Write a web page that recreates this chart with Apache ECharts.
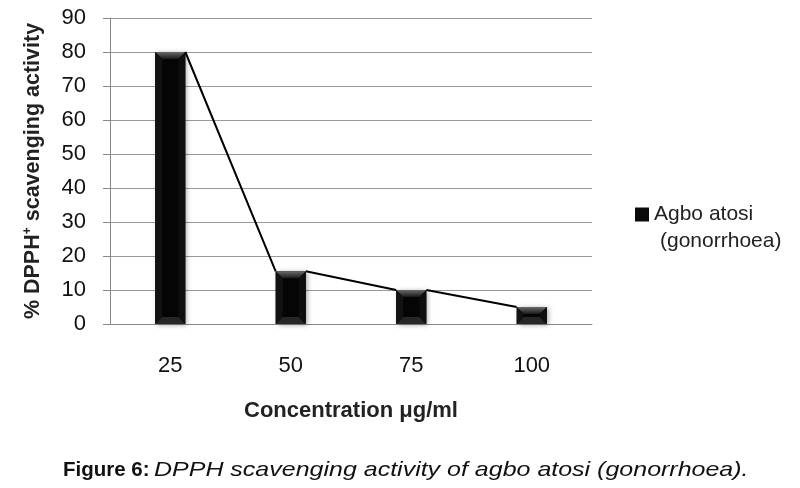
<!DOCTYPE html>
<html>
<head>
<meta charset="utf-8">
<script src="https://cdn.jsdelivr.net/npm/echarts@6/dist/echarts.min.js"></script>
<style>html,body{margin:0;padding:0;background:#fff}#c{width:800px;height:488px}</style>
</head>
<body>
<div id="c"></div>
<script>
const categories = ['25', '50', '75', '100'];
const values = [80, 15.5, 10, 5];
const yTicks = { min: 0, max: 90, interval: 10 };
const seriesName = 'Agbo atosi';
const legendSecondLine = '(gonorrhoea)';
const xName = 'Concentration μg/ml';
const captionBold = 'Figure 6:';
const captionItalic = 'DPPH scavenging activity of agbo atosi (gonorrhoea).';

const FONT = '"Liberation Sans", Arial, sans-serif';
const chart = echarts.init(document.getElementById('c'));

const lineData = values.map((v, i) => [i, v, i + 1 < values.length ? values[i + 1] : null]);

chart.setOption({
  animation: false,
  textStyle: { fontFamily: FONT },
  grid: { left: 110, right: 208, top: 18, bottom: 164, containLabel: false },
  legend: {
    left: 630, top: 199,
    itemWidth: 14, itemHeight: 14,
    itemGap: 8,
    data: [{ name: seriesName, icon: 'rect', itemStyle: { color: '#0a0a0a' } }],
    textStyle: { fontFamily: FONT, fontSize: 21, color: '#222', padding: [0, 0, 0, 0] },
    selectedMode: false
  },
  graphic: [
    { type: 'text', left: 660, top: 231,
      style: { text: legendSecondLine, font: '21px ' + FONT, fill: '#222' } },
    { type: 'text', x: 63, y: 470,
      style: { text: captionBold, font: 'bold 20.5px ' + FONT, fill: '#111', verticalAlign: 'middle' } },
    { type: 'text', x: 154, y: 470, scaleX: 1.19,
      style: { text: captionItalic, font: 'italic 21px ' + FONT, fill: '#111', verticalAlign: 'middle' } }
  ],
  xAxis: {
    type: 'category',
    data: categories,
    name: xName,
    nameLocation: 'middle',
    nameGap: 76,
    nameTextStyle: { fontFamily: FONT, fontSize: 22, fontWeight: 'bold', color: '#222' },
    axisLine: { lineStyle: { color: '#888', width: 1 } },
    axisTick: { show: false },
    axisLabel: { fontFamily: FONT, fontSize: 22, color: '#111', margin: 31 }
  },
  yAxis: {
    type: 'value',
    min: yTicks.min, max: yTicks.max, interval: yTicks.interval,
    name: '% DPPH{s|+} scavenging activity',
    nameLocation: 'middle',
    nameGap: 66,
    nameRotate: 90,
    nameTextStyle: {
      fontFamily: FONT, fontSize: 21.5, fontWeight: 'bold', color: '#222',
      rich: { s: { fontFamily: FONT, fontSize: 12, fontWeight: 'bold', color: '#222', verticalAlign: 'top', padding: [0, 0, 10, 0] } }
    },
    axisLine: { show: true, lineStyle: { color: '#888', width: 1 } },
    axisTick: { show: true, length: 7, lineStyle: { color: '#888' } },
    axisLabel: { fontFamily: FONT, fontSize: 22, color: '#111', margin: 24 },
    splitLine: { lineStyle: { color: '#999', width: 1 } }
  },
  series: [
    {
      name: seriesName,
      type: 'bar',
      data: values,
      barWidth: '25%',
      itemStyle: { color: '#050505', shadowBlur: 5, shadowColor: 'rgba(0,0,0,0.35)', shadowOffsetX: 2, shadowOffsetY: 1 },
      z: 2
    },
    {
      type: 'custom',
      name: 'bevel',
      data: values.map((v, i) => [i, v]),
      z: 3,
      silent: true,
      renderItem: function (params, api) {
        const i = api.value(0), v = api.value(1);
        const top = api.coord([i, v]);
        const base = api.coord([i, 0]);
        const hw = api.size([1, 0])[0] * 0.125;
        const x0 = top[0] - hw, x1 = top[0] + hw, yt = top[1], yb = base[1];
        const b = Math.min(7, (yb - yt) / 2);
        return {
          type: 'group',
          children: [
            { type: 'polygon', shape: { points: [[x0, yt], [x1, yt], [x1 - b, yt + b], [x0 + b, yt + b]] },
              style: { fill: new echarts.graphic.LinearGradient(0, 0, 0, 1, [{ offset: 0, color: '#6a6a6a' }, { offset: 1, color: '#1a1a1a' }]) } },
            { type: 'polygon', shape: { points: [[x0, yb], [x1, yb], [x1 - b, yb - b], [x0 + b, yb - b]] },
              style: { fill: '#262626' } },
            { type: 'polygon', shape: { points: [[x0, yt], [x0 + b, yt + b], [x0 + b, yb - b], [x0, yb]] },
              style: { fill: '#121212' } },
            { type: 'polygon', shape: { points: [[x1, yt], [x1 - b, yt + b], [x1 - b, yb - b], [x1, yb]] },
              style: { fill: '#0e0e0e' } }
          ]
        };
      }
    },
    {
      type: 'custom',
      name: 'series lines',
      data: lineData,
      z: 4,
      silent: true,
      renderItem: function (params, api) {
        const i = api.value(0);
        if (i >= values.length - 1) return null;
        const hw = api.size([1, 0])[0] * 0.125;
        const p1 = api.coord([i, api.value(1)]);
        const p2 = api.coord([i + 1, api.value(2)]);
        return {
          type: 'line',
          shape: { x1: p1[0] + hw, y1: p1[1], x2: p2[0] - hw, y2: p2[1] },
          style: { stroke: '#000', lineWidth: 2 }
        };
      }
    }
  ]
});
</script>
</body>
</html>
